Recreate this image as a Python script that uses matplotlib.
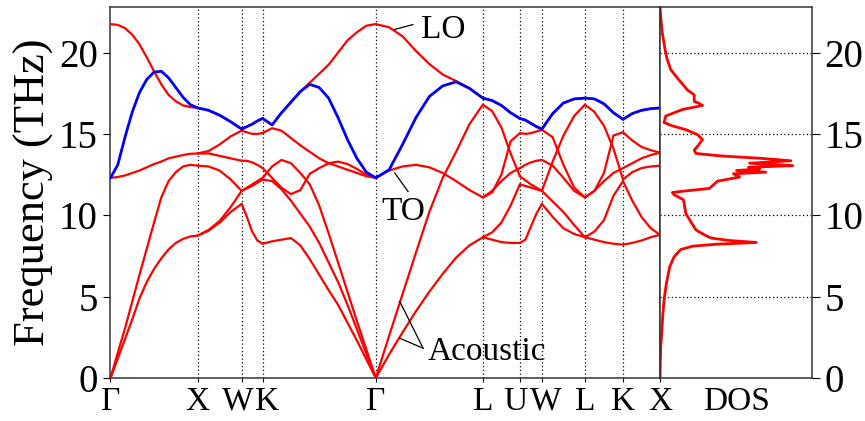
import numpy as np
import matplotlib
matplotlib.use('Agg')
import matplotlib.pyplot as plt
from matplotlib.transforms import ScaledTranslation

plt.rcParams['font.family'] = ['Liberation Serif', 'DejaVu Serif']

# high-symmetry points along the path (path length, Γ-X = 1)
k_labels = ['Γ', 'X', 'W', 'K', 'Γ', 'L', 'U', 'W', 'L', 'K', 'X']
k_pos = [0.0, 1.0, 1.506, 1.747, 3.046, 4.276, 4.701, 4.954, 5.448, 5.885, 6.310]
# small horizontal nudges (points) so that the close labels WK and UW do not collide
k_label_shift = [0, 0, -3, 3, 0, 0, -3, 3, 0, 0, 0]

# phonon branches per segment (THz), evenly sampled inside each segment
# red: LO, TO, TO, LA, TA, TA (degenerate ones listed once); blue: LO without LO-TO splitting
gx_red = [
    [21.75, 21.7, 21.5, 21.1, 20.5, 19.7, 18.85, 18.05, 17.4, 17.0, 16.75, 16.65, 16.6],
    [12.3, 12.35, 12.45, 12.6, 12.75, 12.95, 13.15, 13.3, 13.5, 13.6, 13.7, 13.78, 13.8],
    [0.0, 1.55, 3.05, 4.7, 6.35, 7.95, 9.55, 11.1, 12.1, 12.65, 13.0, 13.1, 13.05],
    [0.0, 1.2, 2.4, 3.6, 4.9, 5.9, 6.7, 7.35, 7.9, 8.3, 8.55, 8.7, 8.75],
]
gx_blue = [12.3, 13.1, 14.8, 16.35, 17.55, 18.35, 18.8, 18.85, 18.45, 17.85, 17.25, 16.8, 16.6]

xw_red = [
    [16.6, 16.45, 16.15, 15.75, 15.3],
    [13.8, 13.95, 14.35, 14.85, 15.2],
    [13.8, 13.8, 13.65, 13.5, 13.35],
    [13.05, 13.0, 12.75, 12.2, 11.5],
    [8.75, 9.1, 9.65, 10.5, 11.5],
    [8.75, 9.05, 9.55, 10.2, 10.7],
]
xw_blue = xw_red[0]

wk_red = [
    [15.3, 15.45, 15.6, 15.8, 15.95],
    [15.2, 15.1, 15.0, 15.0, 15.05],
    [13.35, 13.35, 13.25, 13.1, 12.9],
    [11.5, 11.7, 11.9, 12.1, 12.3],
    [11.5, 11.65, 11.8, 12.0, 12.2],
    [10.7, 9.9, 9.0, 8.45, 8.25],
]
wk_blue = wk_red[0]

kg_red = [
    [15.95, 15.55, 16.3, 16.95, 17.6, 18.15, 18.7, 19.25, 20.0, 20.75, 21.25, 21.65, 21.75],
    [15.05, 15.35, 15.2, 14.75, 14.3, 13.9, 13.5, 13.2, 13.0, 12.8, 12.6, 12.4, 12.3],
    [12.9, 12.3, 11.7, 11.3, 11.55, 12.55, 12.9, 13.2, 13.3, 13.15, 12.85, 12.5, 12.3],
    [12.3, 13.0, 13.4, 13.2, 12.6, 11.9, 10.6, 8.9, 7.1, 5.3, 3.5, 1.75, 0.0],
    [12.2, 12.1, 11.6, 10.9, 10.1, 9.3, 8.3, 7.1, 5.9, 4.5, 3.0, 1.5, 0.0],
    [8.25, 8.4, 8.5, 8.6, 8.15, 7.3, 6.35, 5.4, 4.5, 3.4, 2.3, 1.15, 0.0],
]
kg_blue = [15.95, 15.55, 16.3, 16.95, 17.6, 18.05, 17.85, 17.2, 16.0, 14.65, 13.5, 12.65, 12.3]

gl_red = [
    [21.75, 21.55, 21.0, 20.1, 19.3, 18.65, 18.25, 17.8, 17.2],
    [12.3, 12.75, 13.0, 13.1, 12.95, 12.6, 12.1, 11.55, 11.1],
    [0.0, 2.6, 5.15, 7.7, 10.2, 12.3, 13.9, 15.6, 16.8],
    [0.0, 1.45, 2.8, 4.1, 5.3, 6.4, 7.4, 8.15, 8.65],
]
gl_blue = [12.3, 12.8, 14.35, 16.0, 17.3, 17.95, 18.2, 17.8, 17.2]

lu_red = [
    [17.2, 17.05, 16.75, 16.3, 15.95],
    [16.8, 16.4, 15.4, 13.8, 12.4],
    [11.1, 11.4, 12.5, 14.55, 15.05],
    [11.1, 11.5, 12.1, 12.6, 12.9],
    [8.65, 8.95, 9.55, 10.6, 11.9],
    [8.65, 8.5, 8.35, 8.3, 8.3],
]
lu_blue = lu_red[0]

uw_red = [
    [15.95, 15.85, 15.65, 15.45, 15.3],
    [15.05, 15.0, 15.05, 15.15, 15.25],
    [12.9, 13.1, 13.25, 13.35, 13.4],
    [12.4, 12.15, 11.9, 11.7, 11.5],
    [11.9, 11.8, 11.7, 11.6, 11.5],
    [8.3, 8.5, 9.3, 10.1, 10.7],
]
uw_blue = uw_red[0]

wl_red = [
    [15.3, 16.25, 16.9, 17.15, 17.2],
    [11.5, 13.3, 14.9, 16.1, 16.8],
    [15.25, 14.8, 13.1, 11.7, 11.1],
    [13.4, 13.05, 12.3, 11.5, 11.1],
    [11.5, 10.85, 10.2, 9.4, 8.65],
    [10.7, 9.9, 9.2, 8.85, 8.65],
]
wl_blue = wl_red[0]

lk_red = [
    [17.2, 17.15, 16.85, 16.3, 15.9],
    [16.8, 16.35, 15.5, 14.1, 12.2],
    [11.1, 11.5, 12.6, 14.9, 15.1],
    [11.1, 11.5, 12.1, 12.6, 12.9],
    [8.65, 9.0, 9.7, 11.2, 12.1],
    [8.65, 8.5, 8.35, 8.25, 8.2],
]
lk_blue = lk_red[0]

kx_red = [
    [15.9, 16.25, 16.45, 16.55, 16.6],
    [15.1, 14.6, 14.2, 14.0, 13.85],
    [12.9, 13.2, 13.5, 13.7, 13.85],
    [12.2, 12.65, 12.9, 13.0, 13.05],
    [12.1, 10.9, 9.9, 9.2, 8.8],
    [8.2, 8.3, 8.45, 8.65, 8.8],
]
kx_blue = kx_red[0]

segments = [(gx_red, gx_blue), (xw_red, xw_blue), (wk_red, wk_blue), (kg_red, kg_blue),
            (gl_red, gl_blue), (lu_red, lu_blue), (uw_red, uw_blue), (wl_red, wl_blue),
            (lk_red, lk_blue), (kx_red, kx_blue)]

# phonon density of states (arbitrary units)
dos_freq = [0.0, 1.0, 2.0, 2.75, 3.8, 4.8, 5.8, 6.85, 7.45, 7.9, 8.1, 8.22, 8.33, 8.45,
            8.6, 8.8, 9.1, 9.7, 10.1, 10.95, 11.26, 11.4, 11.5, 11.65, 12.1, 12.35, 12.55,
            12.65, 12.75, 12.85, 12.95, 13.05, 13.2, 13.35, 13.5, 13.65, 13.8, 14.0, 14.3,
            14.65, 14.95, 15.26, 15.5, 15.7, 16.1, 16.5, 16.75, 16.9, 17.0, 17.4, 17.7,
            18.3, 18.95, 19.6, 20.2, 21.2, 22.0, 22.8]
dos_val = [0.0, 0.3, 0.8, 1.7, 2.7, 4.0, 6.3, 9.7, 14.0, 20.7, 32.3, 55.7, 95.7, 69.0,
           50.7, 44.0, 35.7, 29.7, 25.7, 23.3, 14.0, 12.3, 25.7, 49.0, 57.3, 79.0, 73.0,
           105.0, 76.0, 99.0, 88.0, 132.0, 89.0, 130.0, 100.0, 60.0, 35.7, 34.0, 38.0,
           42.3, 37.3, 25.7, 12.0, 4.0, 5.7, 22.3, 42.3, 38.0, 34.0, 34.0, 27.3,
           19.0, 10.7, 7.0, 5.0, 2.3, 1.0, 0.0]

fmax = 22.8
W, H = 865, 421
fig = plt.figure(figsize=(W / 100, H / 100), dpi=100)
ax = fig.add_axes([110.5 / W, 43 / H, 549.5 / W, 371 / H])
ax2 = fig.add_axes([660 / W, 43 / H, 152 / W, 371 / H])

# red bands first, blue overlay on top
for i, (red, blue) in enumerate(segments):
    k0, k1 = k_pos[i], k_pos[i + 1]
    for band in red:
        ax.plot(np.linspace(k0, k1, len(band)), band, color='red', lw=1.6,
                solid_joinstyle='round', solid_capstyle='round', zorder=3)
for i, (red, blue) in enumerate(segments):
    k0, k1 = k_pos[i], k_pos[i + 1]
    ax.plot(np.linspace(k0, k1, len(blue)), blue, color='blue', lw=2.0,
            solid_joinstyle='round', solid_capstyle='round', zorder=4)

for k in k_pos[1:-1]:
    ax.axvline(k, color='k', ls=(0, (1, 2)), lw=0.9, zorder=1)

ax.set_xlim(k_pos[0], k_pos[-1])
ax.set_ylim(0, fmax)
ax.set_xticks(k_pos)
ax.set_xticklabels(k_labels)
ax.set_yticks([0, 5, 10, 15, 20])
ax.tick_params(axis='x', direction='out', length=3, labelsize=24, pad=3)
ax.tick_params(axis='y', direction='out', length=5, labelsize=28, pad=4)
ax.set_ylabel('Frequency (THz)', fontsize=32, labelpad=4)
for lab, dx in zip(ax.get_xticklabels(), k_label_shift):
    if dx:
        lab.set_transform(lab.get_transform() + ScaledTranslation(dx / 72, 0, fig.dpi_scale_trans))

# annotations
ax.plot([3.264, 3.471], [21.42, 21.72], color='k', lw=0.9, zorder=5)
ax.text(3.563, 20.92, 'LO', fontsize=24, ha='left', va='baseline')
ax.plot([3.264, 3.417], [12.6, 11.46], color='k', lw=0.9, zorder=5)
ax.text(3.111, 9.72, 'TO', fontsize=24, ha='left', va='baseline')
ax.plot([3.322, 3.590], [4.70, 1.83], color='k', lw=0.9, zorder=5)
ax.plot([3.322, 3.590], [2.44, 1.83], color='k', lw=0.9, zorder=5)
ax.text(3.644, 1.11, 'Acoustic', fontsize=24, ha='left', va='baseline')

# DOS panel
ax2.plot(dos_val, dos_freq, color='red', lw=2.0, solid_joinstyle='round')
ax2.set_xlim(0, 151)
ax2.set_ylim(0, fmax)
ax2.set_yticks([0, 5, 10, 15, 20])
ax2.yaxis.tick_right()
ax2.tick_params(axis='y', direction='out', length=6, labelsize=28, pad=3)
ax2.set_xticks([75.5])
ax2.set_xticklabels(['DOS'])
ax2.tick_params(axis='x', length=0, labelsize=24, pad=6)
ax2.grid(axis='y', color='k', ls=(0, (1, 2)), lw=0.9)

for a in (ax, ax2):
    for s in a.spines.values():
        s.set_color('0.2')
        s.set_linewidth(1.1)

fig.savefig('out.png', dpi=100)
